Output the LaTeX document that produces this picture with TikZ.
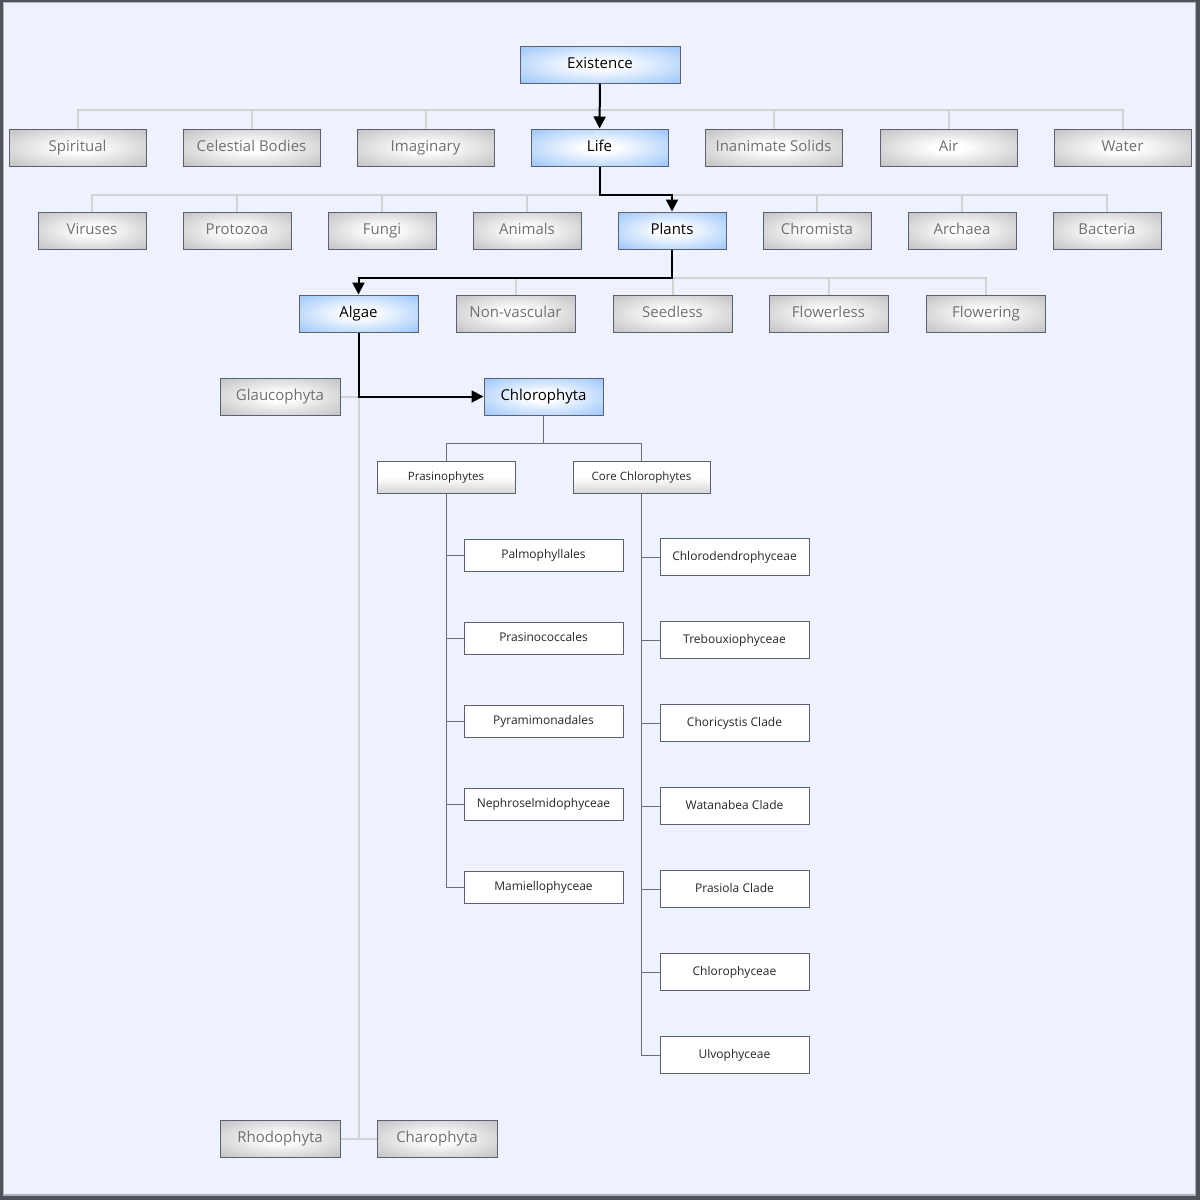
\documentclass[tikz,border=0pt]{standalone}
\usepackage{fontspec}
\setmainfont{Open Sans}
\usetikzlibrary{arrows.meta}
\definecolor{bg}{HTML}{EDF2FD}
\definecolor{framec}{HTML}{4F525A}
\definecolor{boxedge}{HTML}{5C6070}
\definecolor{graybox}{HTML}{B8B8B8}
\definecolor{bluebox}{HTML}{8CBDFA}
\definecolor{graytext}{HTML}{707070}
\definecolor{busc}{HTML}{D3D3D6}
\definecolor{treec}{HTML}{6B6E78}
\definecolor{midgray}{HTML}{D6D6D6}
\pgfdeclareradialshading{grayshade}{\pgfpoint{0bp}{0bp}}{color(0bp)=(white); color(6bp)=(white); color(40bp)=(graybox); color(100bp)=(graybox)}
\pgfdeclareradialshading{blueshade}{\pgfpoint{0bp}{0bp}}{color(0bp)=(white); color(6bp)=(white); color(40bp)=(bluebox); color(100bp)=(bluebox)}
\tikzset{
  gbox/.style={draw=boxedge, line width=1pt, shading=grayshade, text=graytext,
    minimum height=37pt, inner sep=0pt, text height=10.5pt, text depth=3.5pt,
    font=\fontsize{15}{18}\selectfont},
  bbox/.style={draw=boxedge, line width=1pt, shading=blueshade, text=black,
    minimum height=37pt, inner sep=0pt, text height=10.5pt, text depth=3.5pt,
    font=\fontsize{15}{18}\selectfont},
  midbox/.style={draw=boxedge, line width=1pt, top color=white, bottom color=midgray,
    middle color=white, text=black!85, minimum width=138pt, minimum height=32pt,
    inner sep=0pt, text height=8.5pt, text depth=2.5pt, font=\fontsize{11.5}{14}\selectfont},
  leafa/.style={draw=boxedge, line width=0.9pt, fill=white, text=black!85,
    minimum width=159pt, minimum height=32pt, inner sep=0pt, text height=9pt, text depth=2.5pt,
    font=\fontsize{12}{14}\selectfont},
  leafb/.style={draw=boxedge, line width=0.9pt, fill=white, text=black!85,
    minimum width=149pt, minimum height=37pt, inner sep=0pt, text height=9pt, text depth=2.5pt,
    font=\fontsize{12}{14}\selectfont},
  w1/.style={minimum width=137pt},
  w2/.style={minimum width=108pt},
  w3/.style={minimum width=119pt},
  busline/.style={draw=busc, line width=2pt},
  treeline/.style={draw=treec, line width=1pt},
  arr/.style={draw=black, line width=2pt, -{Triangle[length=12pt,width=12pt]}}
}
\begin{document}
\begin{tikzpicture}[x=1pt,y=-1pt]
\useasboundingbox (0,0) rectangle (1200,1200);
\fill[framec] (0,0) rectangle (1200,1200);
\fill[gray!60] (3,2) rectangle (1196,1196);
\fill[bg] (4,3) rectangle (1195,1194);
% nodes
\node[bbox, minimum width=160pt] (Existence) at (600,64.5) {Existence};
% row 1
\node[gbox,w1] (Spiritual) at (77.5,147.5) {Spiritual};
\node[gbox,w1] (Celestial) at (251.5,147.5) {Celestial Bodies};
\node[gbox,w1] (Imaginary) at (425.5,147.5) {Imaginary};
\node[bbox,w1] (Life) at (599.5,147.5) {Life};
\node[gbox,w1] (Inanimate) at (773.5,147.5) {Inanimate Solids};
\node[gbox,w1] (Air) at (948.5,147.5) {Air};
\node[gbox,w1] (Water) at (1122.5,147.5) {Water};
% row 2
\node[gbox,w2] (Viruses) at (92,230.5) {Viruses};
\node[gbox,w2] (Protozoa) at (237,230.5) {Protozoa};
\node[gbox,w2] (Fungi) at (382,230.5) {Fungi};
\node[gbox,w2] (Animals) at (527,230.5) {Animals};
\node[bbox,w2] (Plants) at (672,230.5) {Plants};
\node[gbox,w2] (Chromista) at (817,230.5) {Chromista};
\node[gbox,w2] (Archaea) at (962,230.5) {Archaea};
\node[gbox,w2] (Bacteria) at (1107,230.5) {Bacteria};
% row 3
\node[bbox,w3] (Algae) at (358.5,313.5) {Algae};
\node[gbox,w3] (Nonvascular) at (515.5,313.5) {Non-vascular};
\node[gbox,w3] (Seedless) at (672.5,313.5) {Seedless};
\node[gbox,w3] (Flowerless) at (828.5,313.5) {Flowerless};
\node[gbox,w3] (Flowering) at (986,313.5) {Flowering};
% algae level
\node[gbox,minimum width=120pt] (Glaucophyta) at (280,396.5) {Glaucophyta};
\node[bbox,w3] (Chlorophyta) at (543.5,396.5) {Chlorophyta};
\node[gbox,minimum width=120pt] (Rhodophyta) at (280,1138.5) {Rhodophyta};
\node[gbox,minimum width=120pt] (Charophyta) at (437,1138.5) {Charophyta};
% chlorophyta subtree
\node[midbox] (Prasinophytes) at (446,477) {Prasinophytes};
\node[midbox, minimum width=137pt] (Core) at (641.5,477) {Core Chlorophytes};
\node[leafa] (Palmo) at (543.5,555) {Palmophyllales};
\node[leafa] (Prasino) at (543.5,638) {Prasinococcales};
\node[leafa] (Pyrami) at (543.5,721) {Pyramimonadales};
\node[leafa] (Nephro) at (543.5,804) {Nephroselmidophyceae};
\node[leafa] (Mamiello) at (543.5,887) {Mamiellophyceae};
\node[leafb] (Chlorod) at (734.5,557) {Chlorodendrophyceae};
\node[leafb] (Trebou) at (734.5,640) {Trebouxiophyceae};
\node[leafb] (Chorie) at (734.5,723) {Choricystis Clade};
\node[leafb] (Watan) at (734.5,806) {Watanabea Clade};
\node[leafb] (Prasiola) at (734.5,889) {Prasiola Clade};
\node[leafb] (Chlorophyceae) at (734.5,972) {Chlorophyceae};
\node[leafb] (Ulvo) at (734.5,1055) {Ulvophyceae};
% bus coordinates
\coordinate (b1) at (600,110);
\coordinate (b2) at (600,195);
\coordinate (b3) at (600,278);
\coordinate (t1) at (600,443);
% row 1 bus
\draw[busline] (Spiritual.north) -- (Spiritual.north |- b1) -- (Water.north |- b1) -- (Water.north);
\foreach \n in {Celestial,Imaginary,Inanimate,Air}
  \draw[busline] (\n.north) -- (\n.north |- b1);
% row 2 bus
\draw[busline] (Viruses.north) -- (Viruses.north |- b2) -- (Bacteria.north |- b2) -- (Bacteria.north);
\foreach \n in {Protozoa,Fungi,Animals,Chromista,Archaea}
  \draw[busline] (\n.north) -- (\n.north |- b2);
% row 3 bus
\draw[busline] (Algae.north |- b3) -- (Flowering.north |- b3) -- (Flowering.north);
\foreach \n in {Nonvascular,Seedless,Flowerless}
  \draw[busline] (\n.north) -- (\n.north |- b3);
% algae gray branches
\draw[busline] (Algae.south |- Chlorophyta.west) -- (Algae.south |- Rhodophyta.east);
\draw[busline] (Glaucophyta.east) -- (Glaucophyta.east -| Algae.south);
\draw[busline] (Rhodophyta.east) -- (Charophyta.west);
% black arrows
\draw[arr] (Existence) -- (Life);
\draw[arr] (Life.south) -- (Life.south |- b2) -| (Plants.north);
\draw[arr] (Plants.south) -- (Plants.south |- b3) -| (Algae.north);
\draw[arr] (Algae.south) |- (Chlorophyta.west);
% chlorophyta tree
\draw[treeline] (Chlorophyta.south) -- (Chlorophyta.south |- t1);
\draw[treeline] (Prasinophytes.north) -- (Prasinophytes.north |- t1) -- (Core.north |- t1) -- (Core.north);
\draw[treeline] (Prasinophytes.south) -- (Prasinophytes.south |- Mamiello.west) -- (Mamiello.west);
\foreach \n in {Palmo,Prasino,Pyrami,Nephro}
  \draw[treeline] (\n.west) -- (\n.west -| Prasinophytes.south);
\draw[treeline] (Core.south) -- (Core.south |- Ulvo.west) -- (Ulvo.west);
\foreach \n in {Chlorod,Trebou,Chorie,Watan,Prasiola,Chlorophyceae}
  \draw[treeline] (\n.west) -- (\n.west -| Core.south);
\end{tikzpicture}
\end{document}
